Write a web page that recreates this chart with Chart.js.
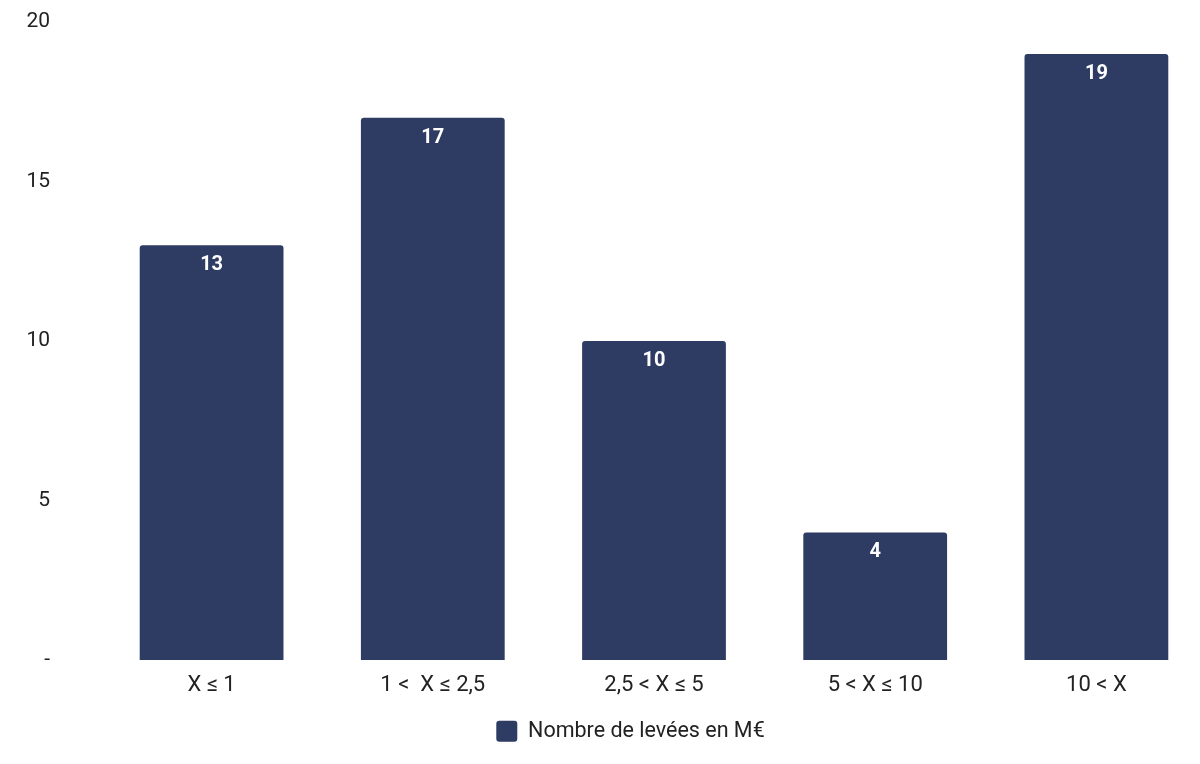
<!DOCTYPE html>
<html>
<head>
<meta charset="utf-8">
<script src="https://cdn.jsdelivr.net/npm/chart.js@4"></script>
<style>
  html, body { margin: 0; padding: 0; background: #fff; overflow: hidden; }
  #wrap { width: 1207px; height: 764px; }
</style>
</head>
<body>
<div id="wrap"><canvas id="levees"></canvas></div>
<script>
const categories = ["X ≤ 1", "1 <  X ≤ 2,5", "2,5 < X ≤ 5", "5 < X ≤ 10", "10 < X"];
const levees = [13, 17, 10, 4, 19];
const yMax = 20;
const yStep = 5;
const seriesLabel = "Nombre de levées en M€";

const barColor = "#2e3b63";

// draws the value just inside the top of each bar
const barValues = {
  id: "barValues",
  afterDatasetsDraw(chart) {
    const ctx = chart.ctx;
    const meta = chart.getDatasetMeta(0);
    ctx.save();
    ctx.fillStyle = "#fff";
    ctx.font = "bold 20px Roboto";
    ctx.textAlign = "center";
    ctx.textBaseline = "middle";
    meta.data.forEach((bar, i) => {
      ctx.fillText(String(levees[i]), bar.x, bar.y + 20);
    });
    ctx.restore();
  },
};

// legend sits a bit right of the canvas centre in the original
const legendShift = {
  id: "legendShift",
  afterLayout(chart) {
    chart.legend.left += 27;
    chart.legend.right += 27;
  },
};

new Chart(document.getElementById("levees"), {
  type: "bar",
  data: {
    labels: categories,
    datasets: [
      {
        label: seriesLabel,
        data: levees,
        backgroundColor: barColor,
        borderRadius: 3,
        borderSkipped: "bottom",
        barPercentage: 1,
        categoryPercentage: 0.65,
      },
    ],
  },
  options: {
    responsive: true,
    maintainAspectRatio: false,
    animation: false,
    layout: { padding: { left: 0, right: 0, top: 22, bottom: 12 } },
    plugins: {
      tooltip: { enabled: false },
      legend: {
        position: "bottom",
        labels: {
          boxWidth: 21,
          boxHeight: 21,
          useBorderRadius: true,
          borderRadius: 3,
          color: "#222",
          padding: 10,
          font: { family: "Roboto", size: 21.5 },
        },
      },
    },
    scales: {
      x: {
        grid: { display: false, drawTicks: false },
        border: { display: false },
        ticks: {
          color: "#222",
          padding: 12,
          font: { family: "Roboto", size: 22 },
        },
      },
      y: {
        min: 0,
        max: yMax,
        afterFit: (s) => {
          s.width = 101;
          s.paddingTop = 0;
          s.paddingBottom = 0;
        },
        grid: { display: false, drawTicks: false },
        border: { display: false },
        ticks: {
          stepSize: yStep,
          color: "#222",
          padding: 51,
          font: { family: "Roboto", size: 21 },
          callback: (v) => (v === 0 ? "-" : v),
        },
      },
    },
  },
  plugins: [barValues, legendShift],
});
</script>
</body>
</html>
